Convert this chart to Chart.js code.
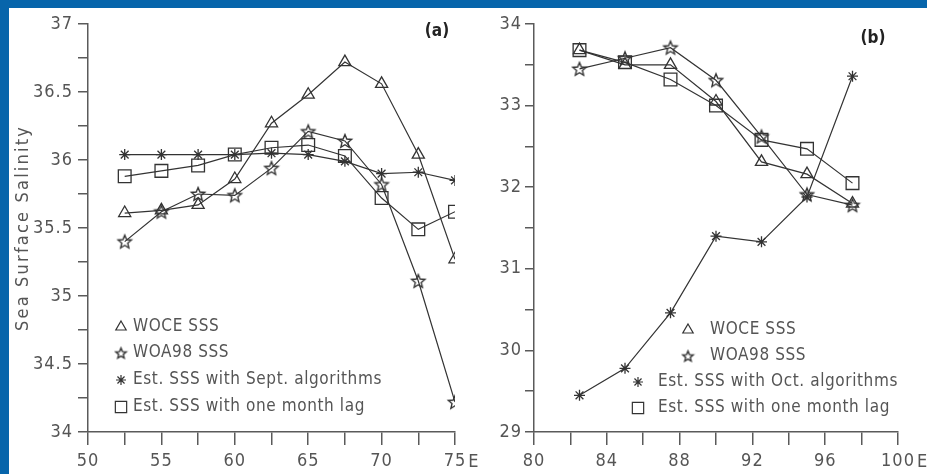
<!DOCTYPE html>
<html>
<head>
<meta charset="utf-8">
<script src="https://cdn.jsdelivr.net/npm/chart.js@4.4.1/dist/chart.umd.min.js"></script>
<style>
  html, body { margin: 0; padding: 0; }
  body { width: 927px; height: 474px; position: relative; overflow: hidden; background: #ffffff; }
  #frameTop { position: absolute; left: 0; top: 0; width: 927px; height: 8px; background: #0765ab; }
  #frameLeft { position: absolute; left: 0; top: 0; width: 9px; height: 474px; background: #0765ab; }
  #panelA { position: absolute; left: 0; top: 0; width: 490px; height: 474px; }
  #panelB { position: absolute; left: 463px; top: 0; width: 464px; height: 474px; }
</style>
</head>
<body>
<div id="frameTop"></div>
<div id="frameLeft"></div>
<canvas id="panelA" width="490" height="474"></canvas>
<canvas id="panelB" width="464" height="474"></canvas>
<script>
// ---- Panel (a): salinity along the September section (longitude, deg E)
const lonA  = [52.5, 55, 57.5, 60, 62.5, 65, 67.5, 70, 72.5, 75];
const woceA = [35.61, 35.63, 35.67, 35.86, 36.27, 36.48, 36.72, 36.56, 36.04, 35.27];
const woaA  = [35.40, 35.62, 35.75, 35.74, 35.94, 36.21, 36.14, 35.82, 35.11, 34.22];
const septA = [36.04, 36.04, 36.04, 36.04, 36.05, 36.04, 35.99, 35.90, 35.91, 35.85];
const lagA  = [35.88, 35.92, 35.96, 36.04, 36.09, 36.11, 36.03, 35.72, 35.49, 35.62];
const xLabelsA = [50, 55, 60, 65, 70, 75];
const yLabelsA = [34, 34.5, 35, 35.5, 36, 36.5, 37];

// ---- Panel (b): salinity along the October section
const lonB  = [82.5, 85, 87.5, 90, 92.5, 95, 97.5];
const woceB = [33.68, 33.50, 33.50, 33.05, 32.31, 32.16, 31.80];
const woaB  = [33.45, 33.58, 33.71, 33.31, 32.62, 31.91, 31.78];
const octB  = [29.45, 29.78, 30.46, 31.40, 31.33, 31.88, 33.36];
const lagB  = [33.68, 33.53, 33.32, 33.00, 32.58, 32.47, 32.05];
const xLabelsB = [80, 84, 88, 92, 96, 100];
const yLabelsB = [29, 30, 31, 32, 33, 34];

const FONT = "'Liberation Sans Narrow', 'DejaVu Sans Condensed', 'Liberation Sans', sans-serif";
const INK = '#333333';
const AXIS = '#5a5a5a';
const TXT = '#555555';

Chart.defaults.font.family = FONT;

// open five-pointed star marker
function starMarker(R) {
  const size = Math.ceil(R * 2 + 4);
  const c = document.createElement('canvas');
  c.width = size; c.height = size;
  const g = c.getContext('2d');
  g.strokeStyle = INK;
  g.lineWidth = 1.4;
  g.lineJoin = 'miter';
  g.beginPath();
  for (let i = 0; i < 10; i++) {
    const r = i % 2 ? R * 0.45 : R;
    const a = -Math.PI / 2 + i * Math.PI / 5;
    const px = size / 2 + r * Math.cos(a);
    const py = size / 2 + 0.6 + r * Math.sin(a);
    if (i === 0) g.moveTo(px, py); else g.lineTo(px, py);
  }
  g.closePath();
  g.stroke();
  return c;
}
const STAR = starMarker(7);
const STAR_KEY = starMarker(5.5);

function series(label, lon, vals, style, radius, keyStyle, keyRadius) {
  return {
    label,
    data: lon.map((x, i) => ({ x, y: vals[i] })),
    pointStyle: style,
    pointRadius: radius,
    pointBorderColor: INK,
    pointBackgroundColor: 'rgba(0,0,0,0)',
    pointBorderWidth: 1.3,
    borderColor: INK,
    borderWidth: 1.2,
    tension: 0,
    fill: false,
    keyStyle: keyStyle || style,
    keyRadius: keyRadius || radius
  };
}

const isLabel = (list, v) => list.some(t => Math.abs(t - v) < 1e-6);

// panel tag, trailing "E" on the longitude axis, axis title and key
const panelText = {
  id: 'panelText',
  beforeDraw(chart) {
    chart.ctx.letterSpacing = '1px';
  },
  afterDraw(chart, args, opts) {
    const ctx = chart.ctx;
    const xs = chart.scales.x;
    ctx.save();
    ctx.letterSpacing = '1px';

    // "E" after the last longitude label
    ctx.font = '18px ' + FONT;
    ctx.fillStyle = TXT;
    ctx.textBaseline = 'middle';
    ctx.textAlign = 'left';
    const last = xs.max;
    const lw = ctx.measureText(String(last)).width;
    ctx.fillText('E', xs.getPixelForValue(last) + lw / 2 + 2, opts.labelY);

    // panel tag
    ctx.letterSpacing = '0px';
    ctx.font = 'bold 17px ' + FONT;
    ctx.fillStyle = '#222';
    ctx.textAlign = 'center';
    ctx.fillText(opts.tag, opts.tagX, opts.tagY);

    // y-axis title
    if (opts.yTitle) {
      ctx.save();
      ctx.letterSpacing = '2.2px';
      ctx.font = '18px ' + FONT;
      ctx.fillStyle = TXT;
      ctx.translate(opts.yTitleX, opts.yTitleY);
      ctx.rotate(-Math.PI / 2);
      ctx.textAlign = 'center';
      ctx.fillText(opts.yTitle, 0, 0);
      ctx.restore();
    }

    // key
    ctx.letterSpacing = '0.6px';
    ctx.font = '17px ' + FONT;
    opts.key.forEach(item => {
      const ds = chart.data.datasets[item.ds];
      ctx.save();
      ctx.strokeStyle = INK;
      ctx.fillStyle = 'rgba(0,0,0,0)';
      ctx.lineWidth = 1.2;
      Chart.helpers.drawPoint(ctx, {
        pointStyle: ds.keyStyle, radius: ds.keyRadius, rotation: 0, borderWidth: 1.2
      }, item.sx, item.y);
      ctx.restore();
      ctx.fillStyle = TXT;
      ctx.textAlign = 'left';
      ctx.textBaseline = 'middle';
      ctx.fillText(ds.label, item.tx, item.y);
    });
    ctx.restore();
  }
};

function axes(c) {
  return {
    x: {
      type: 'linear', position: 'bottom', min: c.xMin, max: c.xMax,
      afterFit: s => { s.height = 42; },
      ticks: {
        stepSize: c.xStep, autoSkip: false, maxRotation: 0, minRotation: 0,
        padding: 6, color: TXT, font: { size: 18 },
        callback: v => isLabel(c.xLabels, v) ? String(v) : ''
      },
      grid: { drawOnChartArea: false, drawTicks: true, tickLength: 13, color: AXIS, lineWidth: 1.5 },
      border: { display: true, color: AXIS, width: 1.5 }
    },
    y: {
      type: 'linear', position: 'left', min: c.yMin, max: c.yMax,
      afterFit: s => { s.width = c.yWidth; },
      ticks: {
        stepSize: c.yStep, autoSkip: false, padding: c.yPad, color: TXT, font: { size: 18 },
        callback: v => isLabel(c.yLabels, v) ? String(v) : ''
      },
      grid: { drawOnChartArea: false, drawTicks: true, tickLength: c.yTick, color: AXIS, lineWidth: 1.5 },
      border: { display: true, color: AXIS, width: 1.5 }
    }
  };
}

new Chart(document.getElementById('panelA'), {
  type: 'line',
  data: {
    datasets: [
      series('WOCE SSS', lonA, woceA, 'triangle', 7, 'triangle', 6),
      series('WOA98 SSS', lonA, woaA, STAR, 7, STAR_KEY, 5),
      series('Est. SSS with Sept. algorithms', lonA, septA, 'star', 5.5, 'star', 5),
      series('Est. SSS with one month lag', lonA, lagA, 'rect', 9, 'rect', 8)
    ]
  },
  options: {
    responsive: false, animation: false,
    layout: { padding: { top: 24, right: 35, bottom: 0, left: 0 } },
    scales: axes({ xMin: 50, xMax: 75, xStep: 2.5, xLabels: xLabelsA,
                   yMin: 34, yMax: 37, yStep: 0.25, yLabels: yLabelsA,
                   yWidth: 88, yTick: 10, yPad: 5 }),
    plugins: {
      legend: { display: false }, tooltip: { enabled: false },
      panelText: {
        tag: '(a)', tagX: 437, tagY: 32, labelY: 462,
        yTitle: 'Sea Surface Salinity', yTitleX: 23, yTitleY: 228,
        key: [
          { ds: 0, sx: 121, tx: 133, y: 327 },
          { ds: 1, sx: 121, tx: 133, y: 353 },
          { ds: 2, sx: 121, tx: 133, y: 380 },
          { ds: 3, sx: 121, tx: 133, y: 407 }
        ]
      }
    }
  },
  plugins: [panelText]
});

new Chart(document.getElementById('panelB'), {
  type: 'line',
  data: {
    datasets: [
      series('WOCE SSS', lonB, woceB, 'triangle', 7, 'triangle', 6),
      series('WOA98 SSS', lonB, woaB, STAR, 7, STAR_KEY, 5),
      series('Est. SSS with Oct. algorithms', lonB, octB, 'star', 5.5, 'star', 5),
      series('Est. SSS with one month lag', lonB, lagB, 'rect', 9, 'rect', 8)
    ]
  },
  options: {
    responsive: false, animation: false,
    layout: { padding: { top: 24, right: 29, bottom: 0, left: 0 } },
    scales: axes({ xMin: 80, xMax: 100, xStep: 2, xLabels: xLabelsB,
                   yMin: 29, yMax: 34, yStep: 0.5, yLabels: yLabelsB,
                   yWidth: 71, yTick: 9, yPad: 3 }),
    plugins: {
      legend: { display: false }, tooltip: { enabled: false },
      panelText: {
        tag: '(b)', tagX: 410, tagY: 39, labelY: 462,
        key: [
          { ds: 0, sx: 225, tx: 247, y: 330 },
          { ds: 1, sx: 225, tx: 247, y: 356 },
          { ds: 2, sx: 175, tx: 195, y: 382 },
          { ds: 3, sx: 175, tx: 195, y: 408 }
        ]
      }
    }
  },
  plugins: [panelText]
});
</script>
</body>
</html>
